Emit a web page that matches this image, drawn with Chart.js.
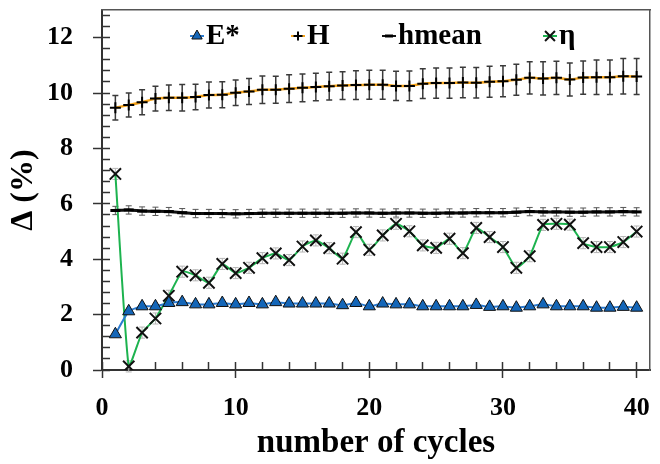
<!DOCTYPE html>
<html>
<head>
<meta charset="utf-8">
<script src="https://cdn.jsdelivr.net/npm/chart.js@4.4.1/dist/chart.umd.min.js"></script>
<style>
  html, body { margin: 0; padding: 0; background: #fff; }
  #chart { display: block; }
</style>
</head>
<body>
<canvas id="chart" width="660" height="464"></canvas>
<script>
const cycles = [1, 2, 3, 4, 5, 6, 7, 8, 9, 10, 11, 12, 13, 14, 15, 16, 17, 18, 19, 20,
                21, 22, 23, 24, 25, 26, 27, 28, 29, 30, 31, 32, 33, 34, 35, 36, 37, 38, 39, 40];

const eStar = [1.29, 2.12, 2.30, 2.30, 2.42, 2.45, 2.37, 2.37, 2.42, 2.37,
               2.42, 2.37, 2.45, 2.40, 2.40, 2.40, 2.40, 2.34, 2.42, 2.30,
               2.40, 2.37, 2.37, 2.30, 2.30, 2.30, 2.30, 2.35, 2.28, 2.30,
               2.25, 2.30, 2.37, 2.30, 2.30, 2.30, 2.25, 2.25, 2.28, 2.25];

const hardness = [9.47, 9.57, 9.67, 9.80, 9.83, 9.83, 9.86, 9.93, 9.94, 10.01,
                  10.06, 10.12, 10.12, 10.16, 10.19, 10.22, 10.25, 10.27, 10.29, 10.30,
                  10.30, 10.26, 10.26, 10.34, 10.36, 10.36, 10.38, 10.37, 10.41, 10.43,
                  10.48, 10.55, 10.53, 10.55, 10.49, 10.56, 10.57, 10.57, 10.61, 10.60];
const hardnessErr = [0.44, 0.43, 0.45, 0.45, 0.46, 0.48, 0.46, 0.47, 0.47, 0.46,
                     0.47, 0.50, 0.49, 0.50, 0.50, 0.50, 0.50, 0.50, 0.52, 0.52,
                     0.52, 0.53, 0.54, 0.54, 0.55, 0.55, 0.55, 0.55, 0.56, 0.56,
                     0.56, 0.58, 0.60, 0.60, 0.60, 0.60, 0.62, 0.62, 0.64, 0.65];

const hMean = [5.76, 5.78, 5.74, 5.73, 5.72, 5.68, 5.65, 5.65, 5.65, 5.64,
               5.65, 5.66, 5.66, 5.66, 5.66, 5.66, 5.66, 5.66, 5.67, 5.67,
               5.66, 5.67, 5.67, 5.66, 5.66, 5.67, 5.67, 5.68, 5.68, 5.68,
               5.70, 5.72, 5.71, 5.71, 5.70, 5.70, 5.71, 5.71, 5.72, 5.71];
const hMeanErr = [0.15, 0.15, 0.15, 0.15, 0.15, 0.15, 0.15, 0.15, 0.15, 0.15,
                  0.15, 0.15, 0.15, 0.15, 0.15, 0.15, 0.15, 0.15, 0.15, 0.15,
                  0.15, 0.15, 0.15, 0.15, 0.15, 0.15, 0.15, 0.15, 0.15, 0.15,
                  0.15, 0.15, 0.15, 0.15, 0.15, 0.15, 0.15, 0.15, 0.15, 0.15];

const eta = [7.08, 0.13, 1.35, 1.86, 2.68, 3.55, 3.42, 3.15, 3.83, 3.50,
             3.69, 4.04, 4.21, 3.97, 4.46, 4.68, 4.40, 4.02, 4.98, 4.34,
             4.86, 5.28, 5.01, 4.50, 4.41, 4.74, 4.22, 5.13, 4.80, 4.44,
             3.69, 4.11, 5.24, 5.28, 5.25, 4.58, 4.44, 4.44, 4.62, 5.00];
const etaErr = [0.20, 0.20, 0.20, 0.20, 0.20, 0.20, 0.20, 0.20, 0.20, 0.20,
                0.20, 0.20, 0.20, 0.20, 0.20, 0.20, 0.20, 0.20, 0.20, 0.20,
                0.20, 0.20, 0.20, 0.20, 0.20, 0.20, 0.20, 0.20, 0.20, 0.20,
                0.20, 0.20, 0.20, 0.20, 0.20, 0.20, 0.20, 0.20, 0.20, 0.20];

const xTicks = [0, 10, 20, 30, 40];
const yTicks = [0, 2, 4, 6, 8, 10, 12];

const SERIF = "'Liberation Serif', 'Times New Roman', serif";

const toPoints = (vals) => cycles.map((c, i) => ({ x: c, y: vals[i] }));

// +/- error bars, drawn before the lines so markers sit on top
const errorBars = {
  id: 'errorBars',
  beforeDatasetsDraw(chart) {
    const ctx = chart.ctx;
    const yScale = chart.scales.y;
    chart.data.datasets.forEach((ds, i) => {
      if (!ds.errors) return;
      const meta = chart.getDatasetMeta(i);
      ctx.save();
      ctx.strokeStyle = ds.errorColor;
      ctx.lineWidth = ds.errorWidth;
      meta.data.forEach((pt, j) => {
        const v = ds.data[j].y;
        const top = yScale.getPixelForValue(v + ds.errors[j]);
        const bot = yScale.getPixelForValue(v - ds.errors[j]);
        ctx.beginPath();
        ctx.moveTo(pt.x, top);
        ctx.lineTo(pt.x, bot);
        ctx.moveTo(pt.x - 3, top);
        ctx.lineTo(pt.x + 3, top);
        ctx.moveTo(pt.x - 3, bot);
        ctx.lineTo(pt.x + 3, bot);
        ctx.stroke();
      });
      ctx.restore();
    });
  }
};

// one-row legend sitting inside the top of the plot
const legendRow = {
  id: 'legendRow',
  afterDraw(chart) {
    const { ctx, chartArea } = chart;
    const slots = [95, 196, 287, 448];
    const my = chartArea.top + 26;
    ctx.save();
    ctx.font = 'bold 29px ' + SERIF;
    ctx.textBaseline = 'alphabetic';
    ctx.textAlign = 'left';
    chart.data.datasets.forEach((ds, i) => {
      const x = chartArea.left + slots[i];
      ctx.strokeStyle = ds.borderColor;
      ctx.lineWidth = 2;
      ctx.beginPath();
      ctx.moveTo(x - 7, my);
      ctx.lineTo(x + 7, my);
      ctx.stroke();
      ctx.fillStyle = ds.pointBackgroundColor || ds.pointBorderColor;
      ctx.strokeStyle = ds.pointBorderColor;
      ctx.lineWidth = ds.pointBorderWidth;
      Chart.helpers.drawPoint(ctx, {
        pointStyle: ds.pointStyle, radius: ds.pointRadius - 1,
        borderWidth: ds.pointBorderWidth, rotation: 0
      }, x, my);
      ctx.fillStyle = '#000';
      ctx.fillText(ds.label, x + 9, chartArea.top + 34);
    });
    ctx.restore();
  }
};

const frameAxis = (position) => ({
  type: 'linear',
  position: position,
  min: 0,
  max: position === 'top' ? 41 : 13,
  ticks: { display: false },
  grid: { drawOnChartArea: false, drawTicks: false },
  border: { display: true, color: '#555', width: 1.5 },
  afterFit: (s) => { if (position === 'top') s.height = 0; else s.width = 0; }
});

new Chart(document.getElementById('chart'), {
  type: 'line',
  data: {
    datasets: [
      {
        label: 'E*',
        data: toPoints(eStar),
        borderColor: '#2b7bd0',
        borderWidth: 2,
        pointStyle: 'triangle',
        pointRadius: 7,
        pointBackgroundColor: '#1466b8',
        pointBorderColor: '#111',
        pointBorderWidth: 1,
        tension: 0.15
      },
      {
        label: 'H',
        data: toPoints(hardness),
        errors: hardnessErr,
        errorColor: '#3a3a3a',
        errorWidth: 1.5,
        borderColor: '#f5a31a',
        borderWidth: 2.5,
        pointStyle: 'cross',
        pointRadius: 5.5,
        pointBorderColor: '#000',
        pointBorderWidth: 2,
        tension: 0.15
      },
      {
        label: 'hmean',
        data: toPoints(hMean),
        errors: hMeanErr,
        errorColor: '#555',
        errorWidth: 1,
        borderColor: '#111',
        borderWidth: 3,
        pointStyle: 'line',
        pointRadius: 5,
        pointBorderColor: '#000',
        pointBorderWidth: 3,
        tension: 0.15
      },
      {
        label: 'η',
        data: toPoints(eta),
        errors: etaErr,
        errorColor: '#b5b5b5',
        errorWidth: 1,
        borderColor: '#1db34f',
        borderWidth: 2,
        pointStyle: 'crossRot',
        pointRadius: 8,
        pointBorderColor: '#111',
        pointBorderWidth: 2,
        tension: 0.15
      }
    ]
  },
  options: {
    responsive: false,
    animation: false,
    devicePixelRatio: 1,
    layout: { padding: { left: 0, right: 3, top: 9, bottom: 0 } },
    plugins: {
      legend: { display: false },
      tooltip: { enabled: false }
    },
    scales: {
      x: {
        type: 'linear',
        position: 'bottom',
        weight: 1,
        min: 0,
        max: 41,
        afterBuildTicks: (s) => { s.ticks = xTicks.map((v) => ({ value: v })); },
        afterFit: (s) => { s.height = 94; s.paddingLeft = 0; s.paddingRight = 0; },
        ticks: { color: '#000', padding: 15, font: { family: SERIF, size: 26, weight: 'bold' } },
        grid: { drawOnChartArea: false, tickLength: 8, tickWidth: 1.5, tickColor: '#333' },
        border: { color: '#333', width: 2 },
        title: {
          display: true,
          text: 'number of cycles',
          color: '#000',
          font: { family: SERIF, size: 33, weight: 'bold' },
          padding: { top: 0, bottom: 1 }
        }
      },
      xMinor: {
        type: 'linear',
        position: 'bottom',
        weight: 0,
        min: 0,
        max: 41,
        ticks: { display: false, stepSize: 2, includeBounds: false },
        grid: { drawOnChartArea: false, tickLength: -8, tickWidth: 1.5, tickColor: '#333' },
        border: { display: false },
        afterFit: (s) => { s.height = 0; }
      },
      y: {
        type: 'linear',
        position: 'left',
        weight: 1,
        min: 0,
        max: 13,
        afterBuildTicks: (s) => { s.ticks = yTicks.map((v) => ({ value: v })); },
        afterFit: (s) => { s.width = 102; s.paddingTop = 0; s.paddingBottom = 0; },
        ticks: { color: '#000', padding: 20, font: { family: SERIF, size: 26, weight: 'bold' } },
        grid: { drawOnChartArea: false, tickLength: 9, tickWidth: 1.5, tickColor: '#333' },
        border: { color: '#333', width: 2 },
        title: {
          display: true,
          text: 'Δ (%)',
          color: '#000',
          font: { family: SERIF, size: 32, weight: 'bold' },
          padding: { top: 5, bottom: 0 }
        }
      },
      yMinor: {
        type: 'linear',
        position: 'left',
        weight: 0,
        min: 0,
        max: 13,
        ticks: { display: false, stepSize: 0.4, includeBounds: false },
        grid: { drawOnChartArea: false, tickLength: -8, tickWidth: 1.5, tickColor: '#333' },
        border: { display: false },
        afterFit: (s) => { s.width = 0; }
      },
      xTop: frameAxis('top'),
      yRight: frameAxis('right')
    }
  },
  plugins: [errorBars, legendRow]
});
</script>
</body>
</html>
